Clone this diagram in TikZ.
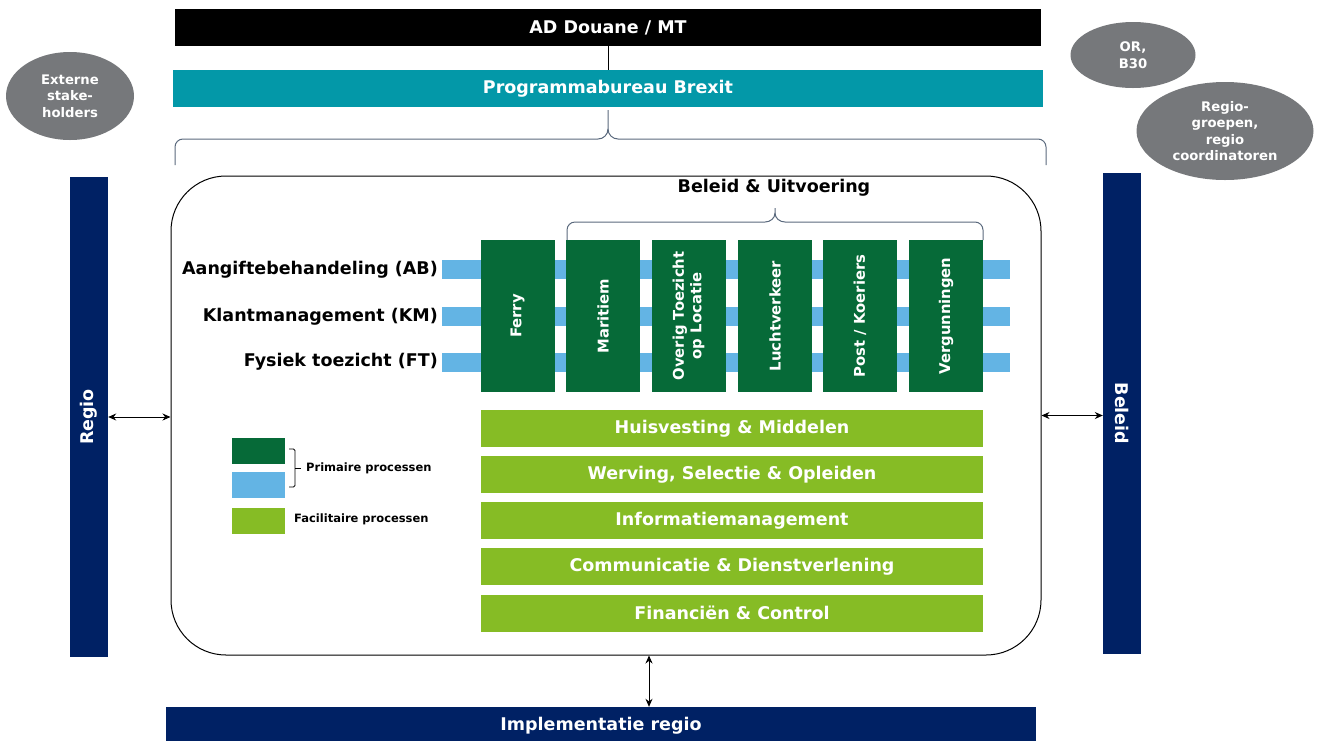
\documentclass[tikz,border=0pt]{standalone}
\usepackage{fontspec}
\setmainfont{DejaVu Sans}
\usetikzlibrary{arrows.meta,shapes.geometric}

\definecolor{pbteal}{RGB}{3,152,168}
\definecolor{dnavy}{RGB}{0,33,100}
\definecolor{dgreen}{RGB}{6,106,56}
\definecolor{lblue}{RGB}{99,180,228}
\definecolor{lgreen}{RGB}{134,188,37}
\definecolor{egray}{RGB}{118,120,123}
\definecolor{bracegray}{RGB}{90,105,125}

\tikzset{
	bar/.style={inner sep=0pt, text=white, font=\bfseries\fontsize{17.5}{20}\selectfont},
	col/.style={fill=dgreen, minimum width=74pt, minimum height=152pt, inner sep=0pt, text=white,
		align=center, font=\bfseries\fontsize{14.8}{17.5}\selectfont},
	stripe/.style={fill=lblue, minimum width=568pt, minimum height=19pt, inner sep=0pt},
	fac/.style={bar, fill=lgreen, minimum width=502pt, minimum height=37pt},
	ell/.style={ellipse, fill=egray, inner sep=0pt, text=white, align=center,
		font=\bfseries\fontsize{13.2}{16.5}\selectfont},
	lab/.style={inner sep=0pt, font=\bfseries\fontsize{17.5}{20}\selectfont},
	legbox/.style={minimum width=53pt, minimum height=26pt, inner sep=0pt},
	legtext/.style={inner sep=0pt, font=\bfseries\fontsize{11.5}{14}\selectfont},
	dbl/.style={{Stealth[length=8pt,width=7pt]}-{Stealth[length=8pt,width=7pt]}, line width=0.9pt},
	bracel/.style={draw=bracegray, line width=1pt}
}

\begin{document}
\begin{tikzpicture}[x=1pt, y=-1pt]
	\useasboundingbox (0,0) rectangle (1317,740);

	% top
	\node[bar, fill=black, minimum width=866pt, minimum height=37pt] (ad) at (608,27.5) {AD Douane / MT};
	\node[bar, fill=pbteal, minimum width=870pt, minimum height=37pt] (pb) at (608,88.5) {Programmabureau Brexit};
	\draw[line width=0.8pt] (ad) -- (pb);
	\draw[bracel] (175,165) -- (175,147) to[out=90,in=180] (183,139) -- (598,139)
		to[out=0,in=-90] (608,129) -- (608,110);
	\draw[bracel] (608,129) to[out=-90,in=180] (618,139) -- (1038,139)
		to[out=0,in=90] (1046,147) -- (1046,165);

	% stakeholders
	\node[ell, minimum width=128pt, minimum height=88pt] (ext) at (70,96) {Externe\\stake-\\holders};
	\node[ell, minimum width=125pt, minimum height=66pt] (orb) at (1133,55) {OR,\\B30};
	\node[ell, minimum width=177pt, minimum height=98pt] (rgp) at (1225,131) {Regio-\\groepen,\\regio\\coordinatoren};

	% sides
	\node[bar, fill=dnavy, minimum width=480pt, minimum height=38pt, rotate=90] (regio) at (89,417) {Regio};
	\node[bar, fill=dnavy, minimum width=481pt, minimum height=38pt, rotate=-90] (beleid) at (1122,413.5) {Beleid};
	\node[draw, line width=1pt, rounded corners=55pt, minimum width=870pt, minimum height=479pt] (main) at (606,415.5) {};
	\node[bar, fill=dnavy, minimum width=870pt, minimum height=38pt] (impl) at (601,726) {Implementatie regio};
	\draw[dbl] (regio.south) -- (regio.south -| main.west);
	\draw[dbl] (main.east) -- (main.east -| beleid.south);
	\draw[dbl] ([xshift=48pt]impl.north) -- ([xshift=48pt]impl.north |- main.south);

	% beleid & uitvoering
	\node[lab] (bu) at (774,188) {Beleid \& Uitvoering};
	\draw[bracel] (567,240) -- (567,230) to[out=90,in=180] (575,222) -- (765,222)
		to[out=0,in=-90] (775,213) -- (775,208);
	\draw[bracel] (775,213) to[out=-90,in=180] (785,222) -- (975,222)
		to[out=0,in=90] (983,230) -- (983,240);

	\node[stripe] (ab) at (726,269.5) {};
	\node[stripe] (km) at (726,316.5) {};
	\node[stripe] (ft) at (726,362.5) {};
	\node[lab, anchor=east] (abl) at (438,270) {Aangiftebehandeling (AB)};
	\node[lab, anchor=east] (kml) at (438,317) {Klantmanagement (KM)};
	\node[lab, anchor=east] (ftl) at (438,362) {Fysiek toezicht (FT)};

	\node[col] (ferry) at (517.5,316) {\rotatebox{90}{Ferry}};
	\node[col] (marit) at (603,316) {\rotatebox{90}{Maritiem}};
	\node[col] (overig) at (689,316) {\rotatebox{90}{\begin{tabular}{@{}c@{}}Overig Toezicht\\op Locatie\end{tabular}}};
	\node[col] (lucht) at (775,316) {\rotatebox{90}{Luchtverkeer}};
	\node[col] (post) at (860,316) {\rotatebox{90}{Post / Koeriers}};
	\node[col] (verg) at (946,316) {\rotatebox{90}{Vergunningen}};

	\node[fac] (huis) at (732,428.5) {Huisvesting \& Middelen};
	\node[fac] (werv) at (732,474.5) {Werving, Selectie \& Opleiden};
	\node[fac] (info) at (732,520.5) {Informatiemanagement};
	\node[fac] (comm) at (732,566.5) {Communicatie \& Dienstverlening};
	\node[fac] (fin) at (732,613) {Financiën \& Control};

	% legend
	\node[legbox, fill=dgreen] (lg1) at (258.5,451) {};
	\node[legbox, fill=lblue] (lg2) at (258.5,485) {};
	\node[legbox, fill=lgreen] (lg3) at (258.5,521) {};
	\draw[line width=0.9pt, rounded corners=1.5pt] (289,449) -- (295,449) -- (295,487) -- (289,487);
	\draw[line width=0.9pt] (295,468) -- (301,468);
	\node[legtext, anchor=west] (prim) at (306,468) {Primaire processen};
	\node[legtext, anchor=west] (facl) at (294,519) {Facilitaire processen};
\end{tikzpicture}
\end{document}
